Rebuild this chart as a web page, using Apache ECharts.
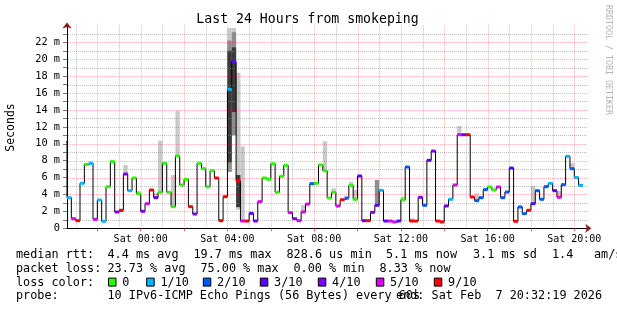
<!DOCTYPE html>
<html><head><meta charset="utf-8">
<script src="https://cdn.jsdelivr.net/npm/echarts@6/dist/echarts.min.js"></script>
<style>html,body{margin:0;padding:0;background:#fff}#c{width:617px;height:310px}</style>
</head><body><div id="c"></div>
<script>
// ---- time axis (hours relative to Sat 00:00) ----
const xMinHour = -3.4, xMaxHour = 20.6;
const firstStepHour = -3.6;     // start of first 12-minute consolidated step
const stepHours = 0.2;          // 12 minutes
const yMaxMs = 24;

// ---- median RTT per step (ms) ----
const median = [
  10.24, 3.62, 1.14, 0.90, 5.32, 7.55, 7.70, 1.06, 3.35, 0.83,
  4.92, 7.88, 1.93, 2.13, 6.42, 4.45, 5.95, 4.09, 2.01, 2.91,
  4.53, 3.62, 4.26, 7.69, 4.26, 2.56, 8.55, 5.12, 5.79, 2.56,
  1.69, 7.69, 7.05, 4.92, 6.81, 5.95, 0.90, 3.74, 16.44, 19.70,
  5.59, 0.86, 0.86, 1.77, 0.86, 3.15, 5.95, 5.79, 7.64, 4.26,
  6.15, 7.45, 1.85, 1.14, 0.90, 1.93, 2.87, 5.28, 5.32, 7.49,
  6.81, 3.58, 4.26, 2.64, 3.38, 3.58, 5.08, 3.43, 6.19, 0.90,
  0.90, 1.89, 2.72, 4.49, 0.86, 0.86, 0.75, 0.86, 3.38, 7.25,
  0.86, 0.86, 3.67, 2.72, 8.04, 9.14, 0.86, 0.75, 2.64, 3.43,
  5.12, 11.07, 11.07, 11.07, 3.70, 3.27, 3.62, 4.57, 4.89, 4.53,
  4.89, 3.62, 4.29, 7.13, 0.83, 2.52, 1.73, 2.13, 2.91, 4.45,
  3.43, 4.92, 5.32, 4.45, 3.67, 5.16, 8.51, 7.05, 5.99, 5.08
];
// ---- packet loss per step (pings lost out of 10) ----
const lossTenths = [
  0,1,5,9,1,0,1,5,1,1,
  0,0,4,9,4,1,0,0,4,5,
  9,3,0,0,0,0,0,0,0,9,
  4,0,0,0,0,9,9,9,1,3,
  9,5,9,3,4,5,0,0,0,0,
  0,0,5,4,5,5,5,2,0,0,
  0,0,0,5,9,2,0,0,3,3,
  9,4,3,1,3,5,5,3,0,2,
  9,9,4,2,3,4,9,9,3,1,
  5,5,3,9,9,2,2,2,0,0,
  5,2,2,3,9,2,2,9,3,2,
  2,2,1,3,5,2,1,2,1,1
];
const lossLevels = [0, 1, 2, 3, 4, 5, 9];
const lossLabels = ['0', '1/10', '2/10', '3/10', '4/10', '5/10', '9/10'];
const lossColors = ['#26ff00', '#00b8ff', '#0059ff', '#5e00ff', '#7e00ff', '#dd00ff', '#ff0000'];

// ---- smoke (ping spread): index into median[], low, high (ms) ----
const smokeOuterStep = [0, 11, 14, 17, 21, 22, 25, 26, 38, 39, 40, 41, 55, 60, 62, 66, 67, 78, 80, 91, 95, 108, 114, 117, 118];
const smokeOuterLow  = [10.24, 7.88, 6.42, 4.09, 3.62, 4.26, 2.56, 8.55, 6.7, 11.0, 2.2, 0.86, 1.93, 6.81, 4.26, 5.08, 3.43, 3.38, 0.86, 11.07, 3.27, 2.91, 3.67, 7.05, 5.99];
const smokeOuterHigh = [11.4, 8.05, 7.49, 4.41, 4.14, 10.36, 6.3, 13.9, 23.7, 23.7, 18.4, 9.7, 2.76, 10.3, 4.73, 5.48, 4.53, 3.74, 1.18, 12.1, 4.14, 5.0, 4.41, 7.72, 6.19];
const smokeMidStep = [38, 39, 72];
const smokeMidLow  = [6.7, 11.0, 2.72];
const smokeMidHigh = [22.2, 23.2, 5.71];
const smokeCoreStep = [38, 39, 40];
const smokeCoreLow  = [7.8, 13.75, 2.5];
const smokeCoreHigh = [21.0, 21.4, 6.3];

// ---- axes / grid ticks ----
const hourGrid = [-3,-2,-1,0,1,2,3,4,5,6,7,8,9,10,11,12,13,14,15,16,17,18,19,20];
const xLabelHours = [0, 4, 8, 12, 16, 20];
const dayName = 'Sat';
const msGrid = [1,2,3,4,5,6,7,8,9,10,11,12,13,14,15,16,17,18,19,20,21,22,23];
const yLabelValues = [0, 2, 4, 6, 8, 10, 12, 14, 16, 18, 20, 22];

const MONO = "'DejaVu Sans Mono', monospace";
const RED_GRID = 'rgba(255,0,0,0.3)';
const GREY_GRID = 'rgba(150,150,150,0.6)';

function stepStart(i) { return firstStepHour + i * stepHours; }

const medianLine = median.map((v, i) => [stepStart(i), v]);
medianLine.push([stepStart(median.length), median[median.length - 1]]);

function clampRect(a, b, cs) {
  let x1 = Math.max(a[0], cs.x), x2 = Math.min(b[0], cs.x + cs.width);
  return [x1, Math.max(0, x2 - x1)];
}

function smokeSeries(steps, lows, highs, color, z) {
  return {
    type: 'custom', z: z, silent: true,
    data: steps.map((k, j) => [stepStart(k), lows[j], highs[j]]),
    renderItem: function (params, api) {
      const s = api.value(0);
      const a = api.coord([s, api.value(2)]);
      const b = api.coord([s + stepHours, api.value(1)]);
      const cr = clampRect(a, b, params.coordSys);
      return { type: 'rect', shape: { x: cr[0], y: a[1], width: cr[1], height: b[1] - a[1] },
               style: { fill: color } };
    }
  };
}

const option = {
  animation: false,
  backgroundColor: '#ffffff',
  grid: { left: 67, right: 29.7, top: 25.4, bottom: 81.7, containLabel: false },
  xAxis: [{
    type: 'value', min: xMinHour, max: xMaxHour,
    axisLine: { show: true, onZero: false, lineStyle: { color: '#000', width: 1 } },
    axisTick: { show: true, customValues: hourGrid.filter(h => h % 2 === 0), length: 3, lineStyle: { color: 'rgba(220,60,60,0.8)' } },
    axisLabel: { customValues: xLabelHours, margin: 6, fontFamily: MONO, fontSize: 10, color: '#000',
      formatter: v => dayName + ' ' + String(Math.round(v)).padStart(2, '0') + ':00' },
    splitLine: { show: false }
  }, {
    type: 'value', min: xMinHour, max: xMaxHour, position: 'bottom',
    axisLine: { show: true, onZero: false, symbol: ['none', 'arrow'], symbolSize: [7, 6], symbolOffset: [0, 4],
      lineStyle: { color: '#8b1a1a', width: 0 } },
    axisTick: { show: false }, axisLabel: { show: false }, splitLine: { show: false }
  }],
  yAxis: [{
    type: 'value', min: 0, max: yMaxMs,
    axisLine: { show: true, onZero: false, lineStyle: { color: '#000', width: 1 } },
    axisTick: { show: true, customValues: [0].concat(msGrid), length: 4, lineStyle: { color: '#777' } },
    axisLabel: { customValues: yLabelValues, margin: 7, fontFamily: MONO, fontSize: 10.3, color: '#000',
      formatter: v => v === 0 ? '0' : v + ' m' },
    splitLine: { show: false }
  }, {
    type: 'value', min: 0, max: yMaxMs, position: 'left',
    axisLine: { show: true, onZero: false, symbol: ['none', 'arrow'], symbolSize: [7, 6], symbolOffset: [0, 3],
      lineStyle: { color: '#8b1a1a', width: 0 } },
    axisTick: { show: false }, axisLabel: { show: false }, splitLine: { show: false }
  }],
  series: [
    smokeSeries(smokeOuterStep, smokeOuterLow, smokeOuterHigh, '#c9c9c9', 1),
    smokeSeries(smokeMidStep, smokeMidLow, smokeMidHigh, '#8e8e8e', 2),
    smokeSeries(smokeCoreStep, smokeCoreLow, smokeCoreHigh, '#3a3a3a', 3),
    { // horizontal grid
      type: 'custom', z: 4, silent: true,
      data: msGrid.map(v => [xMinHour, v, v % 2 === 0 ? 1 : 0]),
      renderItem: function (params, api) {
        const v = api.value(1);
        const a = api.coord([xMinHour, v]), b = api.coord([xMaxHour, v]);
        const y = Math.round(a[1]) + 0.5;
        return { type: 'line', shape: { x1: Math.round(a[0]) + 1, y1: y, x2: b[0], y2: y },
          style: { stroke: api.value(2) ? RED_GRID : GREY_GRID, lineWidth: 1, lineDash: [1, 1] } };
      }
    },
    { // vertical grid
      type: 'custom', z: 4, silent: true,
      data: hourGrid.map(h => [h, 0, h % 2 === 0 ? 1 : 0]),
      renderItem: function (params, api) {
        const h = api.value(0);
        const a = api.coord([h, 0]), b = api.coord([h, yMaxMs]);
        const x = Math.round(a[0]) + 0.5;
        return { type: 'line', shape: { x1: x, y1: b[1], x2: x, y2: Math.round(a[1]) - 1 },
          style: { stroke: api.value(2) ? RED_GRID : GREY_GRID, lineWidth: 1, lineDash: [1, 1] } };
      }
    },
    { // median line
      type: 'line', z: 5, step: 'end', symbol: 'none', silent: true, clip: true,
      data: medianLine,
      lineStyle: { color: '#000', width: 1 }
    },
    { // loss-coloured median marks
      type: 'custom', z: 6, silent: true,
      data: median.map((v, i) => [stepStart(i), v, lossTenths[i]]),
      renderItem: function (params, api) {
        const s = api.value(0), v = api.value(1);
        const a = api.coord([s, v]), b = api.coord([s + stepHours, v]);
        const cr = clampRect(a, b, params.coordSys);
        const col = lossColors[lossLevels.indexOf(api.value(2))];
        return { type: 'rect', shape: { x: cr[0], y: a[1] - 1.5, width: cr[1], height: 3 }, style: { fill: col } };
      }
    }
  ],
  graphic: []
};

function txt(text, x, y, size, extra) {
  return Object.assign({ type: 'text', x: x, y: y, silent: true, z: 10,
    style: Object.assign({ text: text, font: size + 'px ' + MONO, fill: '#000',
      align: 'left', verticalAlign: 'middle', textAlign: 'left', textVerticalAlign: 'middle' }, (extra && extra.style) || {}) },
    extra && extra.el || {});
}
const g = option.graphic;
g.push(txt('Last 24 Hours from smokeping', 307.5, 20, 13.2, { style: { align: 'center', textAlign: 'center' } }));
g.push(txt('Seconds', 11, 127.5, 11.5, { style: { align: 'center', textAlign: 'center' }, el: { rotation: Math.PI / 2 } }));
g.push(txt('RRDTOOL / TOBI OETIKER', 608, 60, 8.3, { style: { align: 'center', textAlign: 'center', fill: '#b4b4b4' }, el: { rotation: -Math.PI / 2 } }));

const LF = 11.8;
const rows = [255.2, 268.9, 282.6, 296.3];
const row1 = [['median rtt:', 16], ['4.4 ms avg', 107.5], ['19.7 ms max', 193.5], ['828.6 us min', 286.5],
              ['5.1 ms now', 386], ['3.1 ms sd', 473], ['1.4', 552], ['am/s', 594]];
row1.forEach(r => g.push(txt(r[0], r[1], rows[0], LF)));
const row2 = [['packet loss:', 16], ['23.73 % avg', 107.5], ['75.00 % max', 200.5], ['0.00 % min', 293.5], ['8.33 % now', 379.5]];
row2.forEach(r => g.push(txt(r[0], r[1], rows[1], LF)));
g.push(txt('loss color:', 16, rows[2], LF));
const swatchX = [108.5, 146.7, 203.3, 260.3, 318.3, 376.3, 434.3];
lossLabels.forEach((lab, i) => {
  g.push({ type: 'rect', silent: true, z: 10, shape: { x: swatchX[i], y: rows[2] - 4.5, width: 7.5, height: 8 },
           style: { fill: lossColors[i], stroke: '#000', lineWidth: 1 } });
  g.push(txt(lab, swatchX[i] + 13.8, rows[2], LF));
});
g.push(txt('probe:', 16, rows[3], LF));
g.push(txt('10 IPv6-ICMP Echo Pings (56 Bytes) every 60s', 107.5, rows[3], LF));
g.push(txt('end: Sat Feb  7 20:32:19 2026', 602, rows[3], LF, { style: { align: 'right', textAlign: 'right' } }));

const chart = echarts.init(document.getElementById('c'), null, { renderer: 'canvas', width: 617, height: 310 });
chart.setOption(option);
</script>
</body></html>
